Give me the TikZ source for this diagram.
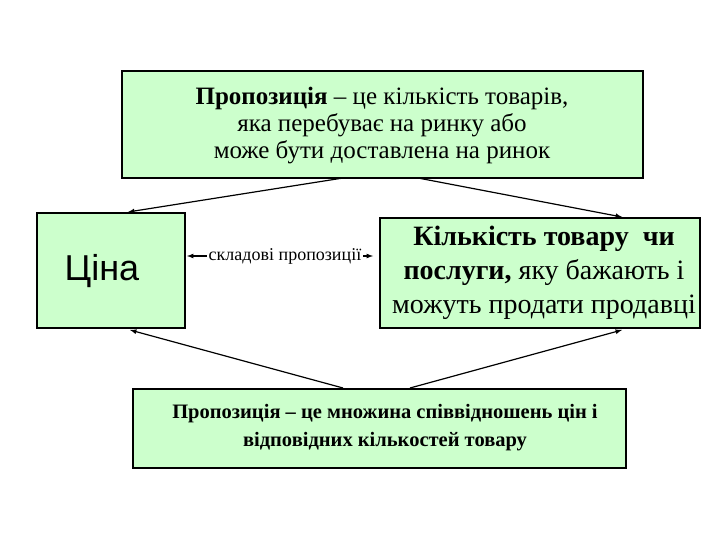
\documentclass[tikz,border=0pt]{standalone}
\usepackage{fontspec}
\setmainfont{Liberation Serif}
\newfontfamily\arialf{Liberation Sans}
\begin{document}
\begin{tikzpicture}[x=1pt,y=-1pt,
  box/.style={draw=black,fill=green!20,line width=1.2pt},
  arr/.style={-latex,line width=1.2pt}]
\useasboundingbox (0,0) rectangle (720,540);
\draw[box] (122,71) rectangle (643,178);
\node (top) [align=center,font=\fontsize{25}{27}\selectfont] at (382,126) {\textbf{Пропозиція} -- це кількість товарів,\\яка перебуває на ринку або\\може бути доставлена на ринок};
\draw[box] (37,213) rectangle (185,328);
\node (price) [font=\arialf\fontsize{36}{38}\selectfont] at (102,271) {Ціна};
\draw[box] (380,218) rectangle (700,328);
\node (qty) [align=center,font=\fontsize{28}{34}\selectfont] at (544,273) {\textbf{Кількість товару\ \ чи}\\\textbf{послуги,} яку бажають і\\можуть продати продавці};
\draw[box] (133,389) rectangle (626,468);
\node (bot) [align=center,font=\bfseries\fontsize{20.5}{28}\selectfont] at (385,428) {Пропозиція -- це множина співвідношень цін і\\відповідних кількостей товару};
\node (mid) [font=\fontsize{18}{20}\selectfont,inner sep=2pt] at (285,256) {складові пропозиції};
\coordinate (t1) at (343,178); \coordinate (t2) at (418,178);
\coordinate (b1) at (343,388); \coordinate (b2) at (410,388);
\coordinate (pl) at (128,212); \coordinate (ql) at (622,217);
\coordinate (pb) at (130,330); \coordinate (qb) at (622,330);
\coordinate (ml) at (187,256); \coordinate (mr) at (373,256);
\draw[arr] (t1) -- (pl);
\draw[arr] (t2) -- (ql);
\draw[arr] (b1) -- (pb);
\draw[arr] (b2) -- (qb);
\draw[arr] (mid.west) -- (ml);
\draw[arr] (mid.east) -- (mr);
\end{tikzpicture}
\end{document}
